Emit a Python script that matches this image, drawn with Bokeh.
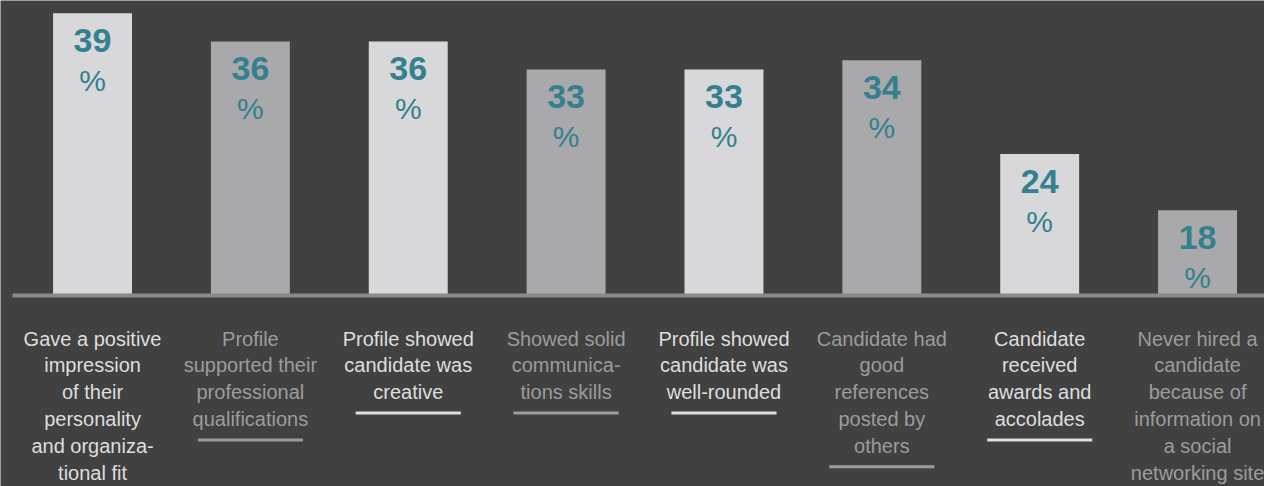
from bokeh.plotting import figure
from bokeh.models import Range1d, ColumnDataSource
from bokeh.core.properties import value
from bokeh.embed import file_html
from bokeh.resources import INLINE

# ---- data ----
categories = [
    ["Gave a positive", "impression", "of their", "personality", "and organiza-", "tional fit"],
    ["Profile", "supported their", "professional", "qualifications"],
    ["Profile showed", "candidate was", "creative"],
    ["Showed solid", "communica-", "tions skills"],
    ["Profile showed", "candidate was", "well-rounded"],
    ["Candidate had", "good", "references", "posted by", "others"],
    ["Candidate", "received", "awards and", "accolades"],
    ["Never hired a", "candidate", "because of", "information on", "a social", "networking site"],
]
values = [39, 36, 36, 33, 33, 34, 24, 18]
value_labels = ["39", "36", "36", "33", "33", "34", "24", "18"]
shade = ["light", "dark", "light", "dark", "light", "dark", "light", "dark"]

# ---- style ----
W, H = 1264, 486
BG = "#414141"
BAR_COL = {"light": "#d8d8da", "dark": "#a9a9ac"}
TXT_COL = {"light": "#dedede", "dark": "#9c9c9c"}
TEAL = "#35808e"
FONT = "Liberation Sans"
Y_BASE = 8.93          # value at which the baseline sits
Y_TOP = 40.36
Y_BOTTOM = -11.42
BASE_PX = 295          # baseline position (px from top)
LINE_H = 26.8
FIRST_LINE = 43
UL_GAP = 21

n = len(values)
xs = list(range(n))

p = figure(width=W, height=H, output_backend="svg", toolbar_location=None,
           x_range=Range1d(-0.583, -0.583 + W / 157.86),
           y_range=Range1d(Y_BOTTOM, Y_TOP),
           x_axis_type=None, y_axis_type=None, min_border=0)
p.extra_y_ranges = {"px": Range1d(start=H, end=0)}
p.background_fill_color = BG
p.border_fill_color = BG
p.outline_line_color = None
p.grid.visible = False

# bars
src = ColumnDataSource(dict(x=xs, top=values,
                            color=[BAR_COL[s] for s in shade],
                            lab=value_labels))
p.vbar(x="x", top="top", bottom=Y_BASE, width=0.5, fill_color="color",
       line_color=None, source=src)

# baseline
p.segment(x0=[-0.507], x1=[-0.583 + W / 157.86], y0=[BASE_PX], y1=[BASE_PX],
          y_range_name="px", line_color="#8a8a8a", line_width=4)

# value labels
p.text(x="x", y="top", text="lab", source=src, text_align="center",
       text_baseline="middle", y_offset=27, text_color=TEAL,
       text_font=value(FONT), text_font_size="34px", text_font_style="bold")
p.text(x=xs, y=values, text=["%"] * n, text_align="center",
       text_baseline="middle", y_offset=67, text_color=TEAL,
       text_font=value(FONT), text_font_size="30px")

# category labels
lx, ly, lt, lc = [], [], [], []
ux0, ux1, uy, uc = [], [], [], []
for i, lines in enumerate(categories):
    for k, line in enumerate(lines):
        lx.append(i)
        ly.append(BASE_PX + FIRST_LINE + LINE_H * k)
        lt.append(line)
        lc.append(TXT_COL[shade[i]])
    ux0.append(i - 0.333)
    ux1.append(i + 0.333)
    uy.append(BASE_PX + FIRST_LINE + LINE_H * (len(lines) - 1) + UL_GAP)
    uc.append(TXT_COL[shade[i]])

p.text(x=lx, y=ly, text=lt, text_color=lc, y_range_name="px",
       text_align="center", text_baseline="middle",
       text_font=value(FONT), text_font_size="20px")
p.segment(x0=ux0, x1=ux1, y0=uy, y1=uy, line_color=uc, line_width=3,
          y_range_name="px")

open("out.html", "w").write(file_html(p, INLINE))
